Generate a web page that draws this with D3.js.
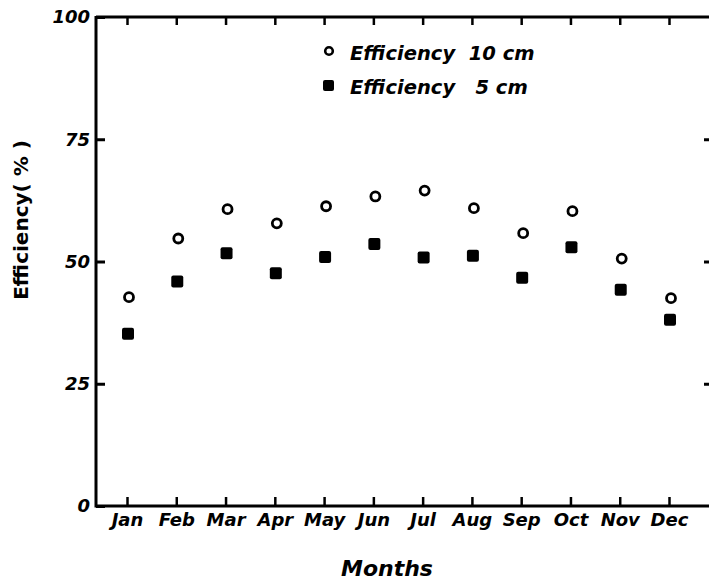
<!DOCTYPE html>
<html>
<head>
<meta charset="utf-8">
<script src="https://cdn.jsdelivr.net/npm/d3@7"></script>
<style>
  body { margin: 0; background: #fff; }
  text { font-family: "DejaVu Sans", "Liberation Sans", sans-serif; font-weight: bold; font-style: oblique; fill: #000; }
</style>
</head>
<body>
<div id="chart"></div>
<script>
const months = ["Jan", "Feb", "Mar", "Apr", "May", "Jun", "Jul", "Aug", "Sep", "Oct", "Nov", "Dec"];
const eff10 = [42.7, 54.7, 60.7, 57.8, 61.3, 63.3, 64.5, 60.9, 55.8, 60.3, 50.6, 42.5];
const eff5 = [35.2, 45.9, 51.7, 47.6, 50.9, 53.6, 50.8, 51.2, 46.7, 52.9, 44.2, 38.1];
const yTicks = [0, 25, 50, 75, 100];

const width = 709;
const height = 580;
const pLeft = 96, pRight = 713, pTop = 17, pBottom = 506;

const svg = d3.select("#chart").append("svg")
  .attr("width", width)
  .attr("height", height);

// month index -> x
const xScale = d3.scaleLinear()
  .domain([0, 11])
  .range([127, 669]);

const yScale = d3.scaleLinear()
  .domain([0, 100])
  .range([pBottom, pTop]);

// frame lines
svg.append("path")
  .attr("d", `M${pLeft},${pTop} L${pRight},${pTop} M${pLeft},${pTop - 1} L${pLeft},${pBottom} L${pRight},${pBottom}`)
  .attr("fill", "none")
  .attr("stroke", "#000")
  .attr("stroke-width", 3);

// left axis, ticks pointing inward
const yAxis = d3.axisLeft(yScale).tickValues(yTicks).tickSize(-9).tickPadding(6);
const gy = svg.append("g")
  .attr("transform", `translate(${pLeft},0)`)
  .call(yAxis);
gy.select(".domain").remove();
gy.selectAll("line").attr("stroke-width", 3);
gy.selectAll("text").attr("font-size", 18).attr("font-family", null);

// right side ticks (axis itself is beyond the picture)
const gyr = svg.append("g")
  .attr("transform", `translate(${pRight},0)`)
  .call(d3.axisRight(yScale).tickValues([25, 50, 75]).tickSize(-9).tickFormat(""));
gyr.select(".domain").remove();
gyr.selectAll("line").attr("stroke-width", 3);

// bottom axis
const xAxis = d3.axisBottom(xScale)
  .tickValues(d3.range(months.length))
  .tickFormat((d) => months[d])
  .tickSize(-9)
  .tickPadding(7);
const gx = svg.append("g")
  .attr("transform", `translate(0,${pBottom})`)
  .call(xAxis);
gx.select(".domain").remove();
gx.selectAll("line").attr("stroke-width", 2.5);
gx.selectAll("text").attr("font-size", 18).attr("font-family", null);

// top ticks
const gt = svg.append("g")
  .attr("transform", `translate(0,${pTop})`)
  .call(d3.axisTop(xScale).tickValues(d3.range(months.length)).tickSize(-8).tickFormat(""));
gt.select(".domain").remove();
gt.selectAll("line").attr("stroke-width", 2.5);

// series
svg.append("g")
  .selectAll("circle")
  .data(eff10)
  .enter()
  .append("circle")
  .attr("cx", (d, i) => xScale(i) + 2)
  .attr("cy", (d) => yScale(d))
  .attr("r", 4.5)
  .attr("fill", "none")
  .attr("stroke", "#000")
  .attr("stroke-width", 2.8);

svg.append("g")
  .selectAll("rect")
  .data(eff5)
  .enter()
  .append("rect")
  .attr("x", (d, i) => xScale(i) + 1 - 6)
  .attr("y", (d) => yScale(d) - 6)
  .attr("width", 12)
  .attr("height", 12)
  .attr("rx", 2)
  .attr("fill", "#000");

// legend
const legend = svg.append("g");
legend.append("circle")
  .attr("cx", 329).attr("cy", 51).attr("r", 3.8)
  .attr("fill", "none").attr("stroke", "#000").attr("stroke-width", 2.6);
legend.append("text")
  .attr("x", 350).attr("y", 60)
  .attr("font-size", 19.5)
  .attr("xml:space", "preserve")
  .text("Efficiency  10 cm");
legend.append("rect")
  .attr("x", 323).attr("y", 80).attr("width", 11).attr("height", 11).attr("rx", 2)
  .attr("fill", "#000");
legend.append("text")
  .attr("x", 350).attr("y", 94)
  .attr("font-size", 19.5)
  .attr("xml:space", "preserve")
  .text("Efficiency   5 cm");

// axis titles
svg.append("text")
  .attr("x", 387).attr("y", 576)
  .attr("text-anchor", "middle")
  .attr("font-size", 22)
  .text("Months");

svg.append("text")
  .attr("transform", "translate(28,220) rotate(-90)")
  .attr("text-anchor", "middle")
  .attr("font-size", 20)
  .attr("xml:space", "preserve")
  .style("font-style", "normal")
  .text("Efficiency( % )");
</script>
</body>
</html>
